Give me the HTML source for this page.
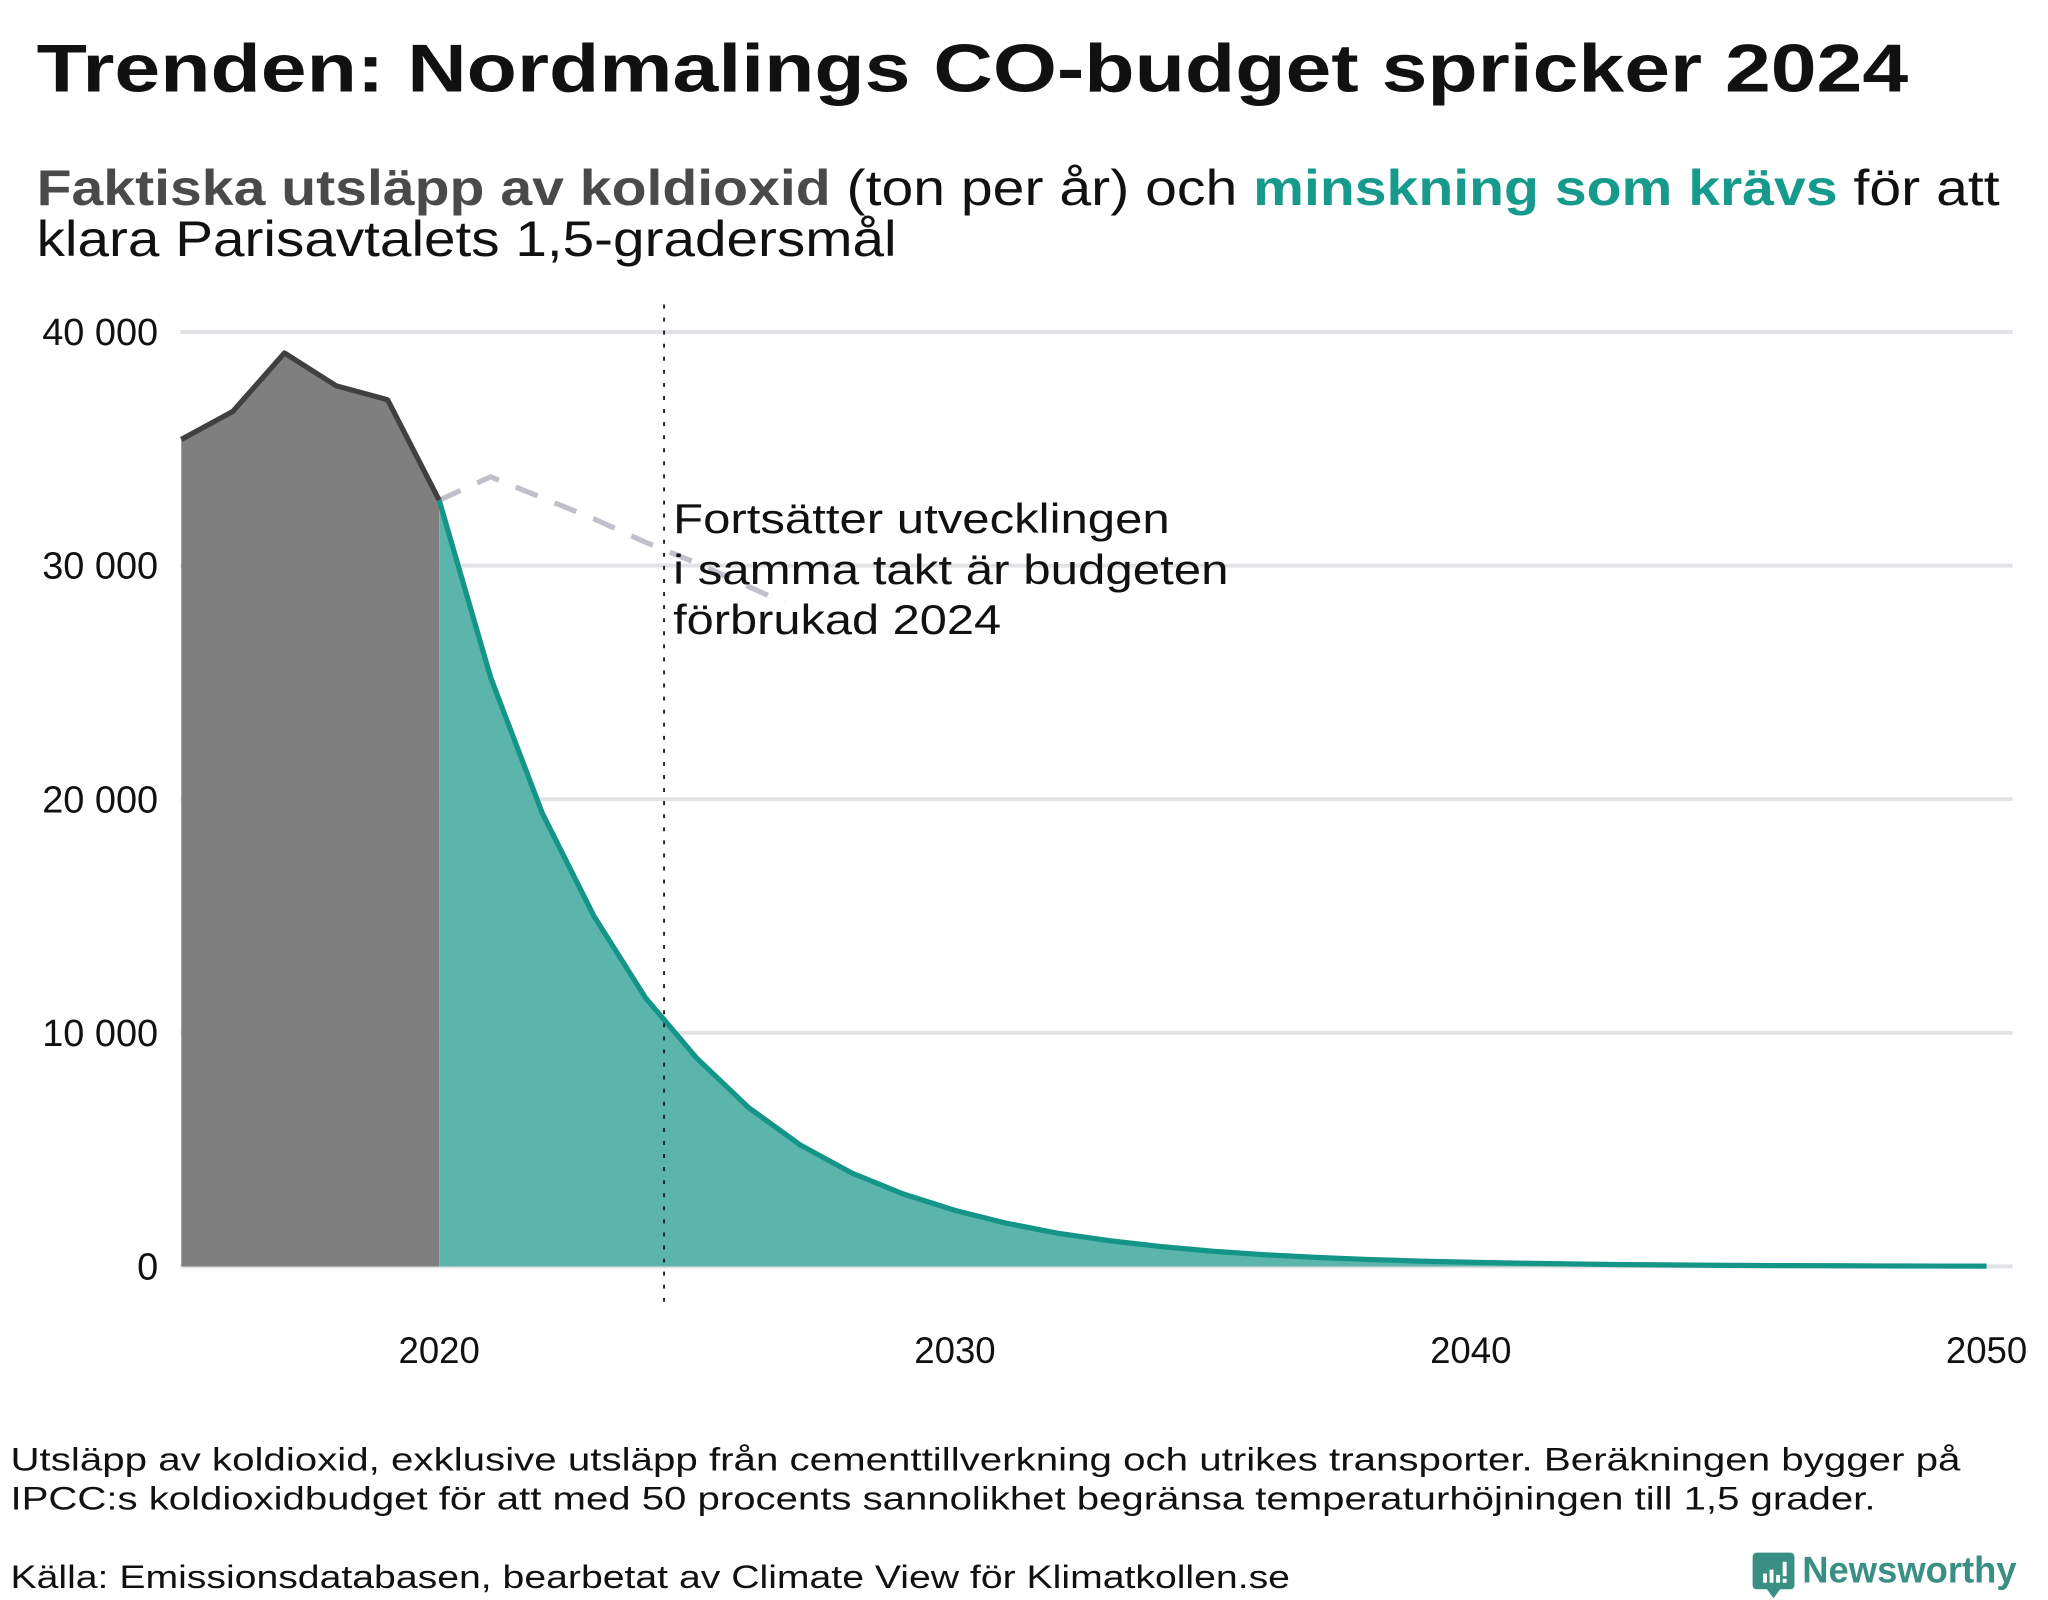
<!DOCTYPE html>
<html><head><meta charset="utf-8"><style>
html,body{margin:0;padding:0;background:#fff;}
svg{display:block;font-family:"Liberation Sans","DejaVu Sans",sans-serif;}
</style></head><body>
<svg id="chart" width="2048" height="1600" viewBox="0 0 1567 1224.2" xmlns="http://www.w3.org/2000/svg">
<rect width="1567" height="1224.2" fill="#fff"/>
<text x="28" y="70" font-size="52" font-weight="bold" fill="#111" textLength="1432" lengthAdjust="spacingAndGlyphs">Trenden: Nordmalings CO-budget spricker 2024</text>
<text x="28" y="157" font-size="38" fill="#111" textLength="1502" lengthAdjust="spacingAndGlyphs"><tspan font-weight="bold" fill="#4a4a4a">Faktiska utsläpp av koldioxid</tspan> (ton per år) och <tspan font-weight="bold" fill="#169a8b">minskning som krävs</tspan> för att</text>
<text x="28" y="196" font-size="38" fill="#111" textLength="658" lengthAdjust="spacingAndGlyphs">klara Parisavtalets 1,5-gradersmål</text>
<g id="grid"></g>
<g id="areas"></g>
<g id="axes"></g>
<text font-size="32" fill="#111">
<tspan x="515" y="408" textLength="380" lengthAdjust="spacingAndGlyphs">Fortsätter utvecklingen</tspan>
<tspan x="515" y="447" textLength="425" lengthAdjust="spacingAndGlyphs">i samma takt är budgeten</tspan>
<tspan x="515" y="485" textLength="251" lengthAdjust="spacingAndGlyphs">förbrukad 2024</tspan>
</text>
<text x="8" y="1125" font-size="25" fill="#111" textLength="1492" lengthAdjust="spacingAndGlyphs">Utsläpp av koldioxid, exklusive utsläpp från cementtillverkning och utrikes transporter. Beräkningen bygger på</text>
<text x="8" y="1155" font-size="25" fill="#111" textLength="1427" lengthAdjust="spacingAndGlyphs">IPCC:s koldioxidbudget för att med 50 procents sannolikhet begränsa temperaturhöjningen till 1,5 grader.</text>
<text x="8" y="1215" font-size="25" fill="#111" textLength="979" lengthAdjust="spacingAndGlyphs">Källa: Emissionsdatabasen, bearbetat av Climate View för Klimatkollen.se</text>
<g>
<path d="M1344 1188 h26 a3 3 0 0 1 3 3 v22 a3 3 0 0 1 -3 3 h-8 l-5 7 l-5 -7 h-8 a3 3 0 0 1 -3 -3 v-22 a3 3 0 0 1 3 -3z" fill="#3a8f85"/>
<rect x="1349" y="1204" width="3" height="7" fill="#fff"/><rect x="1354" y="1201" width="3" height="10" fill="#fff"/><rect x="1359" y="1205" width="3" height="6" fill="#fff"/><rect x="1364" y="1195" width="3" height="11" fill="#fff"/><rect x="1364" y="1208" width="3" height="3" fill="#fff"/>
<text x="1379" y="1211" font-size="28" font-weight="bold" fill="#3a8f85" textLength="164" lengthAdjust="spacingAndGlyphs">Newsworthy</text>
</g>
</svg>
<script>
const actualYears=[2015,2016,2017,2018,2019,2020];
const actualValues=[35400,36600,39100,37700,37100,32800];
const pathYears=[2020,2021,2022,2023,2024,2025,2026,2027,2028,2029,2030,2031,2032,2033,2034,2035,2036,2037,2038,2039,2040,2041,2042,2043,2044,2045,2046,2047,2048,2049,2050];
const pathValues=[32800,25200,19400,15000,11500,8900,6800,5200,4000,3100,2400,1850,1420,1100,850,650,500,390,300,230,180,140,105,80,62,48,37,28,22,17,13];
const trendYears=[2020,2021,2022,2023,2024,2025,2026,2026.7];
const trendValues=[32800,33800,32900,32000,31000,30100,29100,28400];
const yTicks=[0,10000,20000,30000,40000];
const yTickLabels=["0","10 000","20 000","30 000","40 000"];
const xTicks=[2020,2030,2040,2050];
const budgetYear=2024.36;

const NS="http://www.w3.org/2000/svg";
const x0=138.7,x1=1520,yr0=2015,yr1=2050,yb=969,yt=254;
const X=v=>x0+(v-yr0)*(x1-x0)/(yr1-yr0);
const Y=v=>yb-v*(yb-yt)/40000;
function mk(tag,parent,attrs){const e=document.createElementNS(NS,tag);for(const k in attrs)e.setAttribute(k,attrs[k]);document.getElementById(parent).appendChild(e);return e;}
yTicks.forEach((t,i)=>{
  const l=mk('line','grid',{x1:138,x2:1540,y1:Y(t),y2:Y(t),stroke:'#e2e2e6','stroke-width':3});
  
  
  const tx=mk('text','axes',{x:121,y:Y(t)+10,'font-size':29,'text-anchor':'end',fill:'#111'});
  tx.textContent=yTickLabels[i];
  
  
});
xTicks.forEach(t=>{
  const tx=mk('text','axes',{x:X(t),y:1043,'font-size':28,'text-anchor':'middle',fill:'#111'});
  tx.textContent=t;
  
  
});
function pts(xs,vs){return xs.map((x,i)=>X(x)+','+Y(vs[i])).join(' ');}
const ga=mk('polygon','areas',{points:pts(actualYears,actualValues)+' '+X(2020)+','+yb+' '+X(2015)+','+yb,fill:'#7f7f7f'});


const ta=mk('polygon','areas',{points:pts(pathYears,pathValues)+' '+X(2050)+','+yb+' '+X(2020)+','+yb,fill:'#5bb5ac'});


const tr=mk('polyline','areas',{points:pts(trendYears,trendValues),fill:'none',stroke:'#c0bfcc','stroke-width':4,'stroke-dasharray':'18 14'});


const gl=mk('polyline','areas',{points:pts(actualYears,actualValues),fill:'none',stroke:'#404040','stroke-width':4,'stroke-linejoin':'round'});


const tl=mk('polyline','areas',{points:pts(pathYears,pathValues),fill:'none',stroke:'#159488','stroke-width':4,'stroke-linejoin':'round'});


const vl=mk('line','areas',{x1:X(budgetYear),x2:X(budgetYear),y1:233,y2:1003,stroke:'#222','stroke-width':1.5,'stroke-dasharray':'3 7'});


</script>
</body></html>
